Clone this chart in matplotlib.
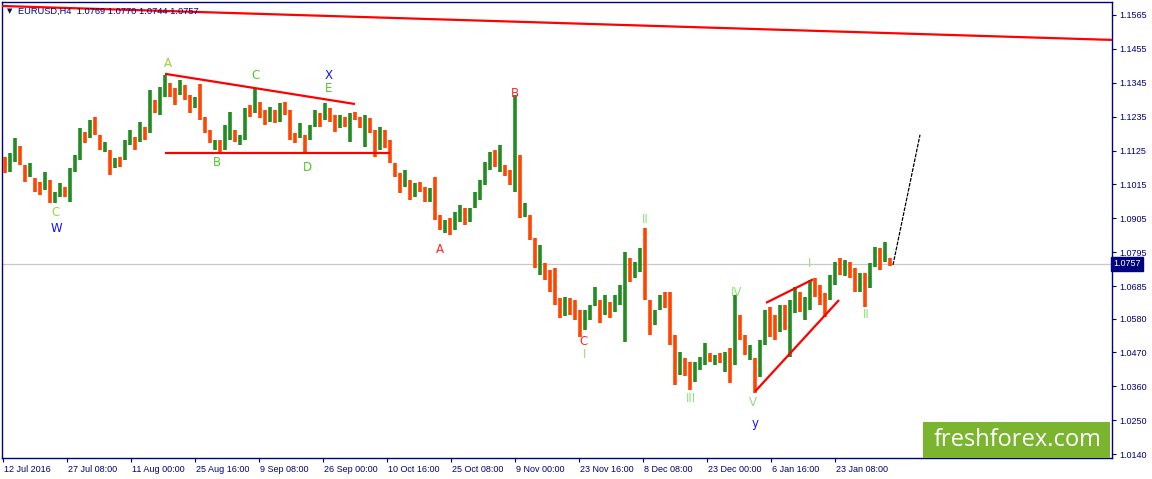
import matplotlib
matplotlib.use("Agg")
import matplotlib.pyplot as plt
import matplotlib.transforms as mtransforms
from matplotlib.patches import Rectangle
import numpy as np

# ---- data (each candle here = 5 H4 bars) ----
bar_highs = [
    1.1104, 1.1117, 1.1166, 1.1140, 1.1078, 1.1085, 1.1036, 1.1023, 1.1056, 1.1030,
    1.0991, 1.1020, 1.1007, 1.1069, 1.1111, 1.1198, 1.1185, 1.1224, 1.1234, 1.1176,
    1.1153, 1.1127, 1.1101, 1.1104, 1.1159, 1.1192, 1.1169, 1.1218, 1.1202, 1.1322,
    1.1289, 1.1331, 1.1370, 1.1344, 1.1328, 1.1354, 1.1338, 1.1305, 1.1299, 1.1341,
    1.1234, 1.1192, 1.1159, 1.1159, 1.1208, 1.1250, 1.1192, 1.1176, 1.1263, 1.1273,
    1.1328, 1.1283, 1.1257, 1.1266, 1.1257, 1.1280, 1.1283, 1.1257, 1.1182, 1.1215,
    1.1176, 1.1208, 1.1257, 1.1247, 1.1280, 1.1263, 1.1241, 1.1241, 1.1234, 1.1247,
    1.1250, 1.1234, 1.1241, 1.1231, 1.1192, 1.1202, 1.1192, 1.1159, 1.1085, 1.1052,
    1.1062, 1.1030, 1.1020, 1.1023, 1.1007, 1.1004, 1.1039, 1.0916, 1.0900, 1.0906,
    1.0926, 1.0949, 1.0939, 1.0939, 1.0991, 1.1030, 1.1088, 1.1120, 1.1127, 1.1143,
    1.1078, 1.1062, 1.1305, 1.1111, 1.0955, 1.0916, 1.0841, 1.0819, 1.0760, 1.0738,
    1.0744, 1.0647, 1.0650, 1.0647, 1.0640, 1.0608, 1.0608, 1.0624, 1.0682, 1.0640,
    1.0656, 1.0634, 1.0656, 1.0689, 1.0796, 1.0777, 1.0764, 1.0809, 1.0874, 1.0640,
    1.0608, 1.0656, 1.0666, 1.0666, 1.0527, 1.0471, 1.0452, 1.0439, 1.0439, 1.0455,
    1.0501, 1.0468, 1.0462, 1.0468, 1.0471, 1.0484, 1.0656, 1.0592, 1.0527, 1.0494,
    1.0452, 1.0510, 1.0608, 1.0617, 1.0592, 1.0624, 1.0624, 1.0640, 1.0682, 1.0666,
    1.0650, 1.0705, 1.0712, 1.0689, 1.0663, 1.0721, 1.0764, 1.0777, 1.0770, 1.0764,
    1.0744, 1.0728, 1.0728, 1.0760, 1.0812, 1.0809, 1.0828, 1.0777,
]
bar_lows = [
    1.1052, 1.1056, 1.1088, 1.1078, 1.1023, 1.1039, 1.0991, 1.0981, 1.0997, 1.0955,
    1.0955, 1.0974, 1.0974, 1.0958, 1.1056, 1.1095, 1.1150, 1.1166, 1.1176, 1.1127,
    1.1120, 1.1046, 1.1069, 1.1072, 1.1095, 1.1143, 1.1127, 1.1153, 1.1159, 1.1182,
    1.1247, 1.1241, 1.1299, 1.1299, 1.1273, 1.1305, 1.1289, 1.1247, 1.1263, 1.1224,
    1.1182, 1.1150, 1.1127, 1.1120, 1.1127, 1.1159, 1.1153, 1.1143, 1.1159, 1.1234,
    1.1247, 1.1231, 1.1208, 1.1218, 1.1215, 1.1218, 1.1241, 1.1159, 1.1150, 1.1166,
    1.1120, 1.1159, 1.1202, 1.1202, 1.1224, 1.1218, 1.1185, 1.1198, 1.1202, 1.1153,
    1.1224, 1.1198, 1.1137, 1.1182, 1.1104, 1.1127, 1.1133, 1.1085, 1.1039, 1.0987,
    1.1007, 1.0965, 1.0974, 1.0991, 1.0958, 1.0958, 1.0900, 1.0867, 1.0858, 1.0851,
    1.0867, 1.0893, 1.0884, 1.0893, 1.0939, 1.0965, 1.1013, 1.1062, 1.1072, 1.1056,
    1.1043, 1.1013, 1.0991, 1.0906, 1.0910, 1.0835, 1.0744, 1.0721, 1.0705, 1.0666,
    1.0624, 1.0582, 1.0588, 1.0592, 1.0575, 1.0520, 1.0543, 1.0575, 1.0621, 1.0566,
    1.0592, 1.0582, 1.0601, 1.0624, 1.0504, 1.0699, 1.0712, 1.0731, 1.0640, 1.0527,
    1.0559, 1.0608, 1.0614, 1.0494, 1.0364, 1.0397, 1.0394, 1.0348, 1.0374, 1.0413,
    1.0429, 1.0439, 1.0429, 1.0436, 1.0407, 1.0371, 1.0429, 1.0510, 1.0462, 1.0446,
    1.0338, 1.0390, 1.0494, 1.0520, 1.0510, 1.0536, 1.0543, 1.0455, 1.0598, 1.0601,
    1.0575, 1.0608, 1.0650, 1.0624, 1.0585, 1.0640, 1.0689, 1.0721, 1.0718, 1.0712,
    1.0666, 1.0666, 1.0617, 1.0679, 1.0747, 1.0738, 1.0764, 1.0751,
]
# u = bullish candle, d = bearish candle (groups of ten)
bar_dirs = "".join([
    "duudduddud", "uuduuududd", "ududuududu", "duudduddud",
    "dduduuduud", "uddududddu", "duududdudu", "dduddudddd",
    "ududduddud", "uuduuuuudu", "ddududdudd", "dduddduuud",
    "uduuuduudd", "uudddudduu", "ududududdu", "duudduduud",
    "uuddduudud", "duduudud",
])

BARS_PER_CANDLE = 5
last_price = 1.0757
header = "EURUSD,H4  1.0769 1.0770 1.0744 1.0757"

y_ticks = [1.1565, 1.1455, 1.1345, 1.1235, 1.1125, 1.1015, 1.0905,
           1.0795, 1.0685, 1.0580, 1.0470, 1.0360, 1.0250, 1.0140]
x_tick_labels = ["12 Jul 2016", "27 Jul 08:00", "11 Aug 00:00", "25 Aug 16:00",
                 "9 Sep 08:00", "26 Sep 00:00", "10 Oct 16:00", "25 Oct 08:00",
                 "9 Nov 00:00", "23 Nov 16:00", "8 Dec 08:00", "23 Dec 00:00",
                 "6 Jan 16:00", "23 Jan 08:00"]
X_TICK_STEP = 64  # H4 bars between date labels

# trend lines drawn on the chart: (bar0, price0, bar1, price1)
trend_lines = [
    (-1, 1.1594, 1109, 1.1484),
    (162, 1.1374, 352, 1.1276),
    (162, 1.1118, 387, 1.1118),
    (763, 1.0631, 810, 1.0707),
    (752, 1.0343, 836, 1.0640),
]
projection = ([890, 917], [1.0754, 1.1176])

# wave labels: (text, bar, price, colour)
GREEN = "#52c82a"
LIGHT = "#8fe07a"
BLUE = "#1010ff"
RED = "#ff2a2a"
wave_labels = [
    ("C", 52, 1.0923, "#9ad43a"), ("W", 53, 1.0873, BLUE),
    ("A", 165, 1.1409, "#9ad43a"), ("C", 253, 1.1367, GREEN),
    ("X", 326, 1.1367, BLUE), ("E", 326, 1.1325, GREEN),
    ("B", 214, 1.1085, GREEN), ("D", 304, 1.1069, GREEN),
    ("A", 437, 1.0803, RED), ("B", 512, 1.1309, RED),
    ("C", 581, 1.0504, RED), ("I", 582, 1.0462, LIGHT),
    ("II", 642, 1.0900, LIGHT), ("III", 688, 1.0322, LIGHT),
    ("IV", 734, 1.0666, LIGHT), ("V", 750, 1.0306, LIGHT),
    ("y", 752, 1.0241, BLUE), ("I", 807, 1.0760, LIGHT),
    ("II", 863, 1.0592, LIGHT),
]

NAVY = "#000080"
UP_COL = "#228b22"
DN_COL = "#ff4500"
FONT = "Liberation Sans"

fig = plt.figure(figsize=(11.52, 4.79), dpi=100)
ax = fig.add_axes([2 / 1152, 21 / 479, 1110 / 1152, 456 / 479])
ax.set_xlim(-1, 1109)
ax.set_ylim(1.01275, 1.1607)

n = len(bar_highs)
xs = np.arange(n) * BARS_PER_CANDLE + BARS_PER_CANDLE / 2 - 0.5
cols = [UP_COL if d == "u" else DN_COL for d in bar_dirs[:n]]
ax.vlines(xs, bar_lows, bar_highs, colors=cols, linewidth=2.6, zorder=3)

# current price line
ax.axhline(last_price, color="#c8c8c8", lw=0.9, zorder=1)

for x0, y0, x1, y1 in trend_lines:
    ax.plot([x0, x1], [y0, y1], color="#ff0000", lw=1.6, zorder=4,
            solid_capstyle="butt")
ax.plot(projection[0], projection[1], color="black", lw=0.9,
        linestyle=(0, (3, 1)), zorder=4)

for txt, bx, py, c in wave_labels:
    ax.text(bx, py, txt, color=c, fontsize=8.5, ha="center", va="center",
            family="DejaVu Sans", zorder=5)

# axes styling
for sp in ax.spines.values():
    sp.set_color(NAVY)
    sp.set_linewidth(1.0)
ax.yaxis.tick_right()
ax.set_yticks(y_ticks)
ax.set_yticklabels([f"{v:.4f}" for v in y_ticks])
ax.set_xticks(np.arange(len(x_tick_labels)) * X_TICK_STEP)
ax.set_xticklabels(x_tick_labels)
ax.tick_params(axis="both", colors=NAVY, direction="out", length=3,
               width=0.8, labelsize=6.5, labelcolor=NAVY)
ax.tick_params(axis="y", pad=2)
ax.tick_params(axis="x", pad=2)
offset = mtransforms.ScaledTranslation(1.5 / 100, 0, fig.dpi_scale_trans)
for lbl in ax.get_xticklabels():
    lbl.set_horizontalalignment("left")
    lbl.set_fontfamily(FONT)
    lbl.set_transform(lbl.get_transform() + offset)
for lbl in ax.get_yticklabels():
    lbl.set_fontfamily(FONT)

# price box on the right scale
trans = mtransforms.blended_transform_factory(ax.transAxes, ax.transData)
ax.text(1.0015, last_price, f"{last_price:.4f}", transform=trans, color="white",
        fontsize=6.5, family=FONT, ha="left", va="center", clip_on=False,
        zorder=6, bbox=dict(boxstyle="square,pad=0.25", fc=NAVY, ec=NAVY))

# header
fig.text(10 / 1152, 1 - 11 / 479, "\u25bc", fontsize=5, color="#101040",
         ha="center", va="center", family="DejaVu Sans")
fig.text(18 / 1152, 1 - 11 / 479, header, fontsize=6.7, color=NAVY,
         ha="left", va="center", family=FONT)

# freshforex logo box
ax.add_patch(Rectangle((925 / 1152 - 2 / 1152, 21 / 479), (1112 - 925) / 1152,
                       36 / 479, transform=fig.transFigure, fc="#7bb42f",
                       ec="none", zorder=7, clip_on=False))
fig.text(1018 / 1152, 1 - 440 / 479, "freshforex.com", fontsize=17,
         color="white", ha="center", va="center", family="Open Sans", zorder=8)

fig.savefig("out.png", dpi=100)
